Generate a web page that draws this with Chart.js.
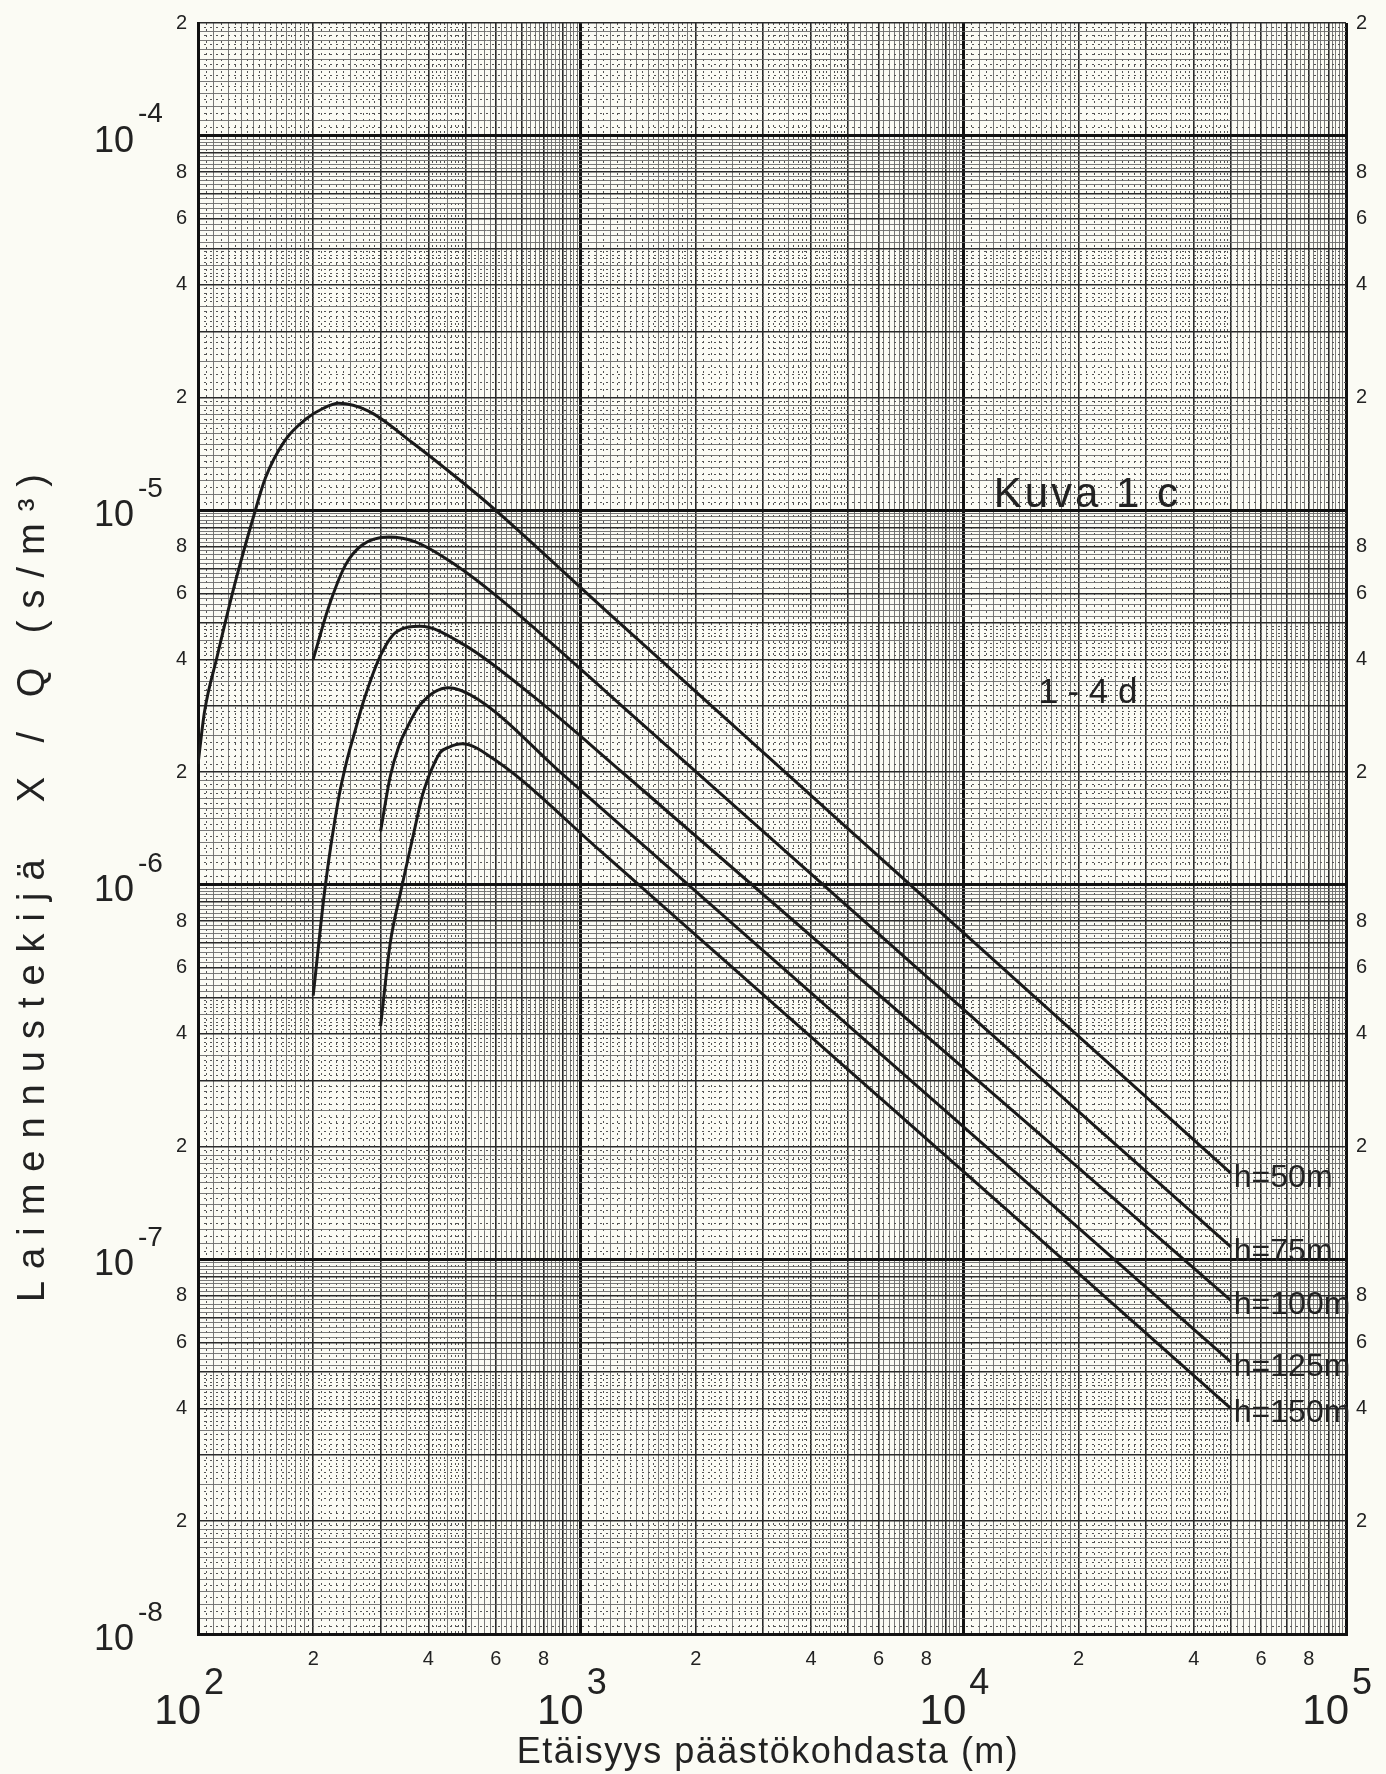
<!DOCTYPE html>
<html>
<head>
<meta charset="utf-8">
<script src="https://cdn.jsdelivr.net/npm/chart.js@4.4.0/dist/chart.umd.min.js"></script>
<style>
    html, body { margin: 0; padding: 0; background: #fbfbf4; }
    #wrap { width: 1386px; height: 1774px; position: relative; }
</style>
</head>
<body>
<div id="wrap"><canvas id="myChart"></canvas></div>
<script>
// stack heights
var stackLabels = ['h=50m', 'h=75m', 'h=100m', 'h=125m', 'h=150m'];

// distance (m) / dilution factor (s/m3)
var h50X = [100, 104, 112, 125, 140, 150, 169, 191, 212, 233, 279, 362, 490, 600, 1175, 50000];
var h50Y = [2.1e-6, 2.9e-6, 4.04e-6, 6.4e-6, 9.7e-6, 1.22e-5, 1.54e-5, 1.75e-5, 1.87e-5, 1.93e-5, 1.84e-5, 1.52e-5, 1.19e-5, 1.0e-5, 5.35e-6, 1.70e-7];

var h75X = [200, 219, 243, 268, 315, 370, 471, 599, 1352, 50000];
var h75Y = [4.0e-6, 5.48e-6, 7.15e-6, 8.07e-6, 8.49e-6, 8.24e-6, 7.15e-6, 5.94e-6, 2.86e-6, 1.08e-7];

var h100X = [200, 215, 233, 245, 258, 271, 300, 331, 381, 495, 740, 1297, 50000];
var h100Y = [5.06e-7, 9.9e-7, 1.7e-6, 2.15e-6, 2.6e-6, 3.1e-6, 4.1e-6, 4.75e-6, 4.9e-6, 4.38e-6, 3.23e-6, 1.98e-6, 7.78e-8];

var h125X = [300, 318, 335, 352, 381, 452, 541, 904, 50000];
var h125Y = [1.39e-6, 1.95e-6, 2.35e-6, 2.63e-6, 3.03e-6, 3.36e-6, 3.12e-6, 1.96e-6, 5.33e-8];

var h150X = [300, 318, 338, 366, 385, 401, 410, 430, 452, 490, 599, 1128, 50000];
var h150Y = [4.2e-7, 7.0e-7, 9.5e-7, 1.37e-6, 1.72e-6, 1.95e-6, 2.06e-6, 2.26e-6, 2.33e-6, 2.38e-6, 2.15e-6, 1.23e-6, 4.0e-8];

// axis labels
var yDecades = [-4, -5, -6, -7, -8];
var xDecades = [2, 3, 4, 5];
var minorDigits = [2, 4, 6, 8];
var xTitle = 'Etäisyys päästökohdasta (m)';
var yTitle = 'Laimennustekijä  X / Q (s/m³)';
var noteTitle = 'Kuva 1 c';
var noteSub = '1 - 4 d';

var X_MIN = 100, X_MAX = 100000, Y_MIN = 1e-8, Y_MAX = 2e-4;

// --- graph paper rulings ---
var solidMant = [];
for (var i = 10; i < 20; i++) solidMant.push(i / 10);
[2, 2.5, 3, 3.5, 4, 4.5].forEach(function(m) { solidMant.push(m) });
for (var j = 25; j < 50; j++) solidMant.push(j / 5);

var dotMant = [];
for (var k = 21; k < 50; k++) if (k % 5 !== 0) dotMant.push(k / 10);
for (var k2 = 1; k2 < 20; k2 += 2) dotMant.push(1 + k2 / 20);

function ladder(mants, lo, hi) {
    var out = [];
    var e0 = Math.floor(Math.log10(lo)) - 1, e1 = Math.ceil(Math.log10(hi));
    for (var e = e0; e <= e1; e++) {
        mants.forEach(function(m) {
            var v = m * Math.pow(10, e);
            if (v >= lo * 0.9999 && v <= hi * 1.0001) out.push(v);
        });
    }
    out.sort(function(a, b) { return a - b });
    return out.map(function(v) { return {value: v} });
}

function mant(v) {
    var e = Math.floor(Math.log10(v) + 1e-9);
    var m = Math.round(v / Math.pow(10, e) * 100) / 100;
    return m >= 10 ? 1 : m;
}

function digitLabel(v) {
    var m = mant(v);
    return minorDigits.indexOf(m) >= 0 ? String(m) : '';
}

function rulingColor(c) {
    if (!c.tick) return '#000';
    var m = mant(c.tick.value);
    if (m === 1) return '#111';
    return Number.isInteger(m) ? '#2a2a2a' : '#6a6a6a';
}
function rulingWidth(c) {
    if (!c.tick) return 2;
    var m = mant(c.tick.value);
    if (m === 1) return 3;
    return Number.isInteger(m) ? 1.6 : 0.9;
}

var FONT = '"Liberation Sans", Arial, sans-serif';

var paperText = {
    id: 'paperText',
    afterDraw: function(chart) {
        var ctx = chart.ctx, xs = chart.scales.x, ys = chart.scales.y;
        ctx.save();
        ctx.fillStyle = '#222';
        ctx.textBaseline = 'middle';

        // 10^-n on the left
        yDecades.forEach(function(e) {
            var py = ys.getPixelForValue(Math.pow(10, e));
            ctx.font = '36px ' + FONT;
            ctx.textAlign = 'right';
            ctx.fillText('10', 134, py + 6);
            ctx.font = '28px ' + FONT;
            ctx.textAlign = 'left';
            ctx.fillText('-' + (-e), 138, py - 21);
        });

        // 10^n under the x axis
        xDecades.forEach(function(e) {
            var px = xs.getPixelForValue(Math.pow(10, e));
            ctx.font = '42px ' + FONT;
            ctx.textAlign = 'right';
            ctx.fillText('10', px + 3, 1712);
            ctx.font = '36px ' + FONT;
            ctx.textAlign = 'left';
            ctx.fillText(String(e), px + 6, 1684);
        });

        // axis titles
        ctx.font = '36px ' + FONT;
        ctx.letterSpacing = '1.5px';
        ctx.textAlign = 'center';
        ctx.fillText(xTitle, (xs.left + xs.right) / 2 - 4, 1753);

        ctx.save();
        ctx.translate(34, 882);
        ctx.rotate(-Math.PI / 2);
        ctx.font = '38px ' + FONT;
        ctx.letterSpacing = '12px';
        ctx.fillText(yTitle, 0, 0);
        ctx.restore();

        // figure note
        ctx.letterSpacing = '3px';
        ctx.textAlign = 'left';
        ctx.textBaseline = 'alphabetic';
        ctx.font = '42px ' + FONT;
        ctx.fillText(noteTitle, xs.getPixelForValue(1.2e4), ys.getPixelForValue(1.02e-5));
        ctx.letterSpacing = '0px';
        ctx.font = '35px ' + FONT;
        ctx.fillText(noteSub, xs.getPixelForValue(1.57e4), ys.getPixelForValue(3.05e-6));

        // curve labels at the end of each line
        ctx.textBaseline = 'middle';
        ctx.font = '32px ' + FONT;
        chart.data.datasets.forEach(function(ds, i) {
            var pts = chart.getDatasetMeta(i).data;
            var last = pts[pts.length - 1];
            ctx.fillText(ds.label, last.x + 3, last.y + 5);
        });
        ctx.restore();
    }
};

var seriesX = [h50X, h75X, h100X, h125X, h150X];
var seriesY = [h50Y, h75Y, h100Y, h125Y, h150Y];

var datasets = stackLabels.map(function(lab, i) {
    return {
        label: lab,
        data: seriesX[i].map(function(x, n) { return {x: x, y: seriesY[i][n]} }),
        borderColor: '#1a1a1a',
        borderWidth: 3,
        pointRadius: 0,
        fill: false,
        cubicInterpolationMode: 'monotone'
    };
});

var ctx = document.getElementById('myChart').getContext('2d');
var chart = new Chart(ctx, {
    type: 'line',
    data: {datasets: datasets},
    options: {
        responsive: true,
        maintainAspectRatio: false,
        animation: false,
        devicePixelRatio: 1,
        layout: {padding: {top: 12, left: 0, right: 0, bottom: 0}},
        plugins: {legend: {display: false}, tooltip: {enabled: false}},
        scales: {
            x: {
                type: 'logarithmic', position: 'bottom', min: X_MIN, max: X_MAX,
                afterBuildTicks: function(s) { s.ticks = ladder(solidMant, X_MIN, X_MAX) },
                afterFit: function(s) { s.height = 140 },
                grid: {color: rulingColor, lineWidth: rulingWidth, drawTicks: false},
                border: {display: true, color: '#111', width: 3},
                ticks: {
                    autoSkip: false, maxRotation: 0, padding: 13, color: '#222',
                    font: {family: FONT, size: 20},
                    callback: function(v) { return digitLabel(v) }
                }
            },
            xf: {
                type: 'logarithmic', position: 'bottom', min: X_MIN, max: X_MAX,
                afterBuildTicks: function(s) { s.ticks = ladder(dotMant, X_MIN, X_MAX) },
                afterFit: function(s) { s.height = 0 },
                grid: {color: '#555', lineWidth: 1, drawTicks: false},
                border: {display: false, dash: [2, 4]},
                ticks: {display: false}
            },
            y: {
                type: 'logarithmic', position: 'left', min: Y_MIN, max: Y_MAX,
                afterBuildTicks: function(s) { s.ticks = ladder(solidMant, Y_MIN, Y_MAX) },
                afterFit: function(s) { s.width = 198 },
                grid: {color: rulingColor, lineWidth: rulingWidth, drawTicks: false},
                border: {display: true, color: '#111', width: 3},
                ticks: {
                    autoSkip: false, padding: 11, color: '#222',
                    font: {family: FONT, size: 20},
                    callback: function(v) { return digitLabel(v) }
                }
            },
            yf: {
                type: 'logarithmic', position: 'left', min: Y_MIN, max: Y_MAX,
                afterBuildTicks: function(s) { s.ticks = ladder(dotMant, Y_MIN, Y_MAX) },
                afterFit: function(s) { s.width = 0 },
                grid: {color: '#555', lineWidth: 1, drawTicks: false},
                border: {display: false, dash: [2, 4]},
                ticks: {display: false}
            },
            y2: {
                type: 'logarithmic', position: 'right', min: Y_MIN, max: Y_MAX,
                afterBuildTicks: function(s) { s.ticks = ladder(minorDigits, Y_MIN, Y_MAX) },
                afterFit: function(s) { s.width = 40 },
                grid: {drawOnChartArea: false, drawTicks: false},
                border: {display: false},
                ticks: {
                    autoSkip: false, padding: 10, color: '#222',
                    font: {family: FONT, size: 20},
                    callback: function(v) { return digitLabel(v) }
                }
            }
        }
    },
    plugins: [paperText]
});
</script>
</body>
</html>
